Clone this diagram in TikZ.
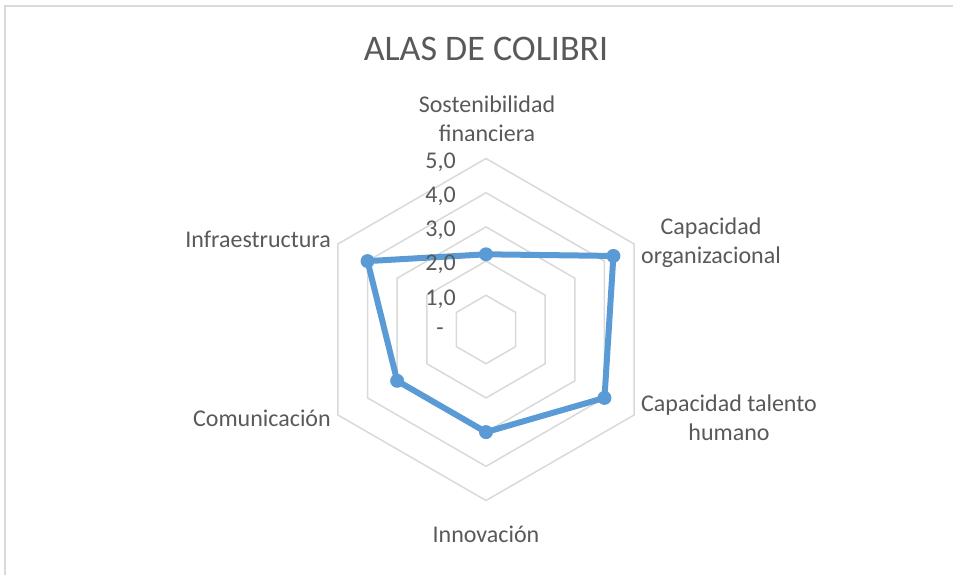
\documentclass[tikz,border=0pt]{standalone}
\usepackage{fontspec}
\setmainfont{Carlito}
\definecolor{textgray}{HTML}{595959}
\definecolor{gridgray}{HTML}{D9D9D9}
\definecolor{seriesblue}{HTML}{5B9BD5}

\begin{document}
\begin{tikzpicture}[x=1pt, y=1pt]
    \tikzset{FrameStyle/.style = {draw=gridgray, line width=2pt}}
    \tikzset{GridStyle/.style = {draw=gridgray, line width=1.5pt}}
    \tikzset{SeriesStyle/.style = {draw=seriesblue, line width=6pt, line join=round}}
    \tikzset{MarkerStyle/.style = {circle, fill=seriesblue, inner sep=0pt, minimum size=14pt}}
    \tikzset{TitleStyle/.style = {text=textgray, inner sep=0pt, font=\fontsize{36}{43}\selectfont}}
    \tikzset{AxisStyle/.style = {text=textgray, inner sep=0pt, align=center, font=\fontsize{24}{29}\selectfont}}
    \tikzset{TickStyle/.style = {text=textgray, inner sep=0pt, anchor=east, font=\fontsize{24}{29}\selectfont}}
    \useasboundingbox (0,0) rectangle (953,-575);
    \clip (0,0) rectangle (953,-575);
    \draw[FrameStyle] (5,-6) rectangle (990,-610);

    \begin{scope}[shift={(486,-329.5)}]
    \node[TitleStyle, anchor=base](title) at (0,268.5){ALAS DE COLIBRI};

    % grid
    \draw[GridStyle] (90:34.2) -- (30:34.2) -- (-30:34.2) -- (-90:34.2) -- (-150:34.2) -- (150:34.2) -- cycle;
    \draw[GridStyle] (90:68.4) -- (30:68.4) -- (-30:68.4) -- (-90:68.4) -- (-150:68.4) -- (150:68.4) -- cycle;
    \draw[GridStyle] (90:102.6) -- (30:102.6) -- (-30:102.6) -- (-90:102.6) -- (-150:102.6) -- (150:102.6) -- cycle;
    \draw[GridStyle] (90:136.8) -- (30:136.8) -- (-30:136.8) -- (-90:136.8) -- (-150:136.8) -- (150:136.8) -- cycle;
    \draw[GridStyle] (90:171) -- (30:171) -- (-30:171) -- (-90:171) -- (-150:171) -- (150:171) -- cycle;

    % axis labels
    \node[AxisStyle](LSost) at (1,210.5){Sostenibilidad\\financiera};
    \node[AxisStyle](LCapOrg) at (225,87){Capacidad\\organizacional};
    \node[AxisStyle](LCapTal) at (243,-88.5){Capacidad talento\\humano};
    \node[AxisStyle](LInnov) at (0,-204.5){Innovación};
    \node[AxisStyle, anchor=east](LComun) at (-155,-88.5){Comunicación};
    \node[AxisStyle, anchor=east](LInfra) at (-155,90.5){Infraestructura};

    % series
    \node[MarkerStyle](Sost) at (90:75.2){};
    \node[MarkerStyle](CapOrg) at (30:147.1){};
    \node[MarkerStyle](CapTal) at (-30:136.8){};
    \node[MarkerStyle](Innov) at (-90:102.6){};
    \node[MarkerStyle](Comun) at (-150:102.6){};
    \node[MarkerStyle](Infra) at (150:136.8){};
    \draw[SeriesStyle](Sost.center) -- (CapOrg.center) -- (CapTal.center) -- (Innov.center)
        -- (Comun.center) -- (Infra.center) -- cycle;

    % ticks
    \node[TickStyle](T5) at (-30,167.5){5,0};
    \node[TickStyle](T4) at (-30,133.3){4,0};
    \node[TickStyle](T3) at (-30,99.1){3,0};
    \node[TickStyle](T2) at (-30,64.9){2,0};
    \node[TickStyle](T1) at (-30,30.7){1,0};
    \node[TickStyle](T0) at (-42,-2.2){-};
    \end{scope}
\end{tikzpicture}
\end{document}
